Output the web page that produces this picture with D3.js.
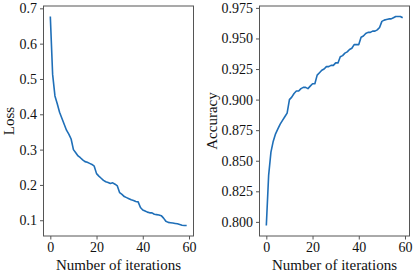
<!DOCTYPE html>
<html>
<head>
<meta charset="utf-8">
<script src="https://cdn.jsdelivr.net/npm/d3@7"></script>
<style>
  body { margin: 0; background: #fff; }
  svg { display: block; }
  .tick text { font-family: "Liberation Serif", "Times New Roman", serif; font-size: 14px; fill: #111; }
  .axis-label { font-family: "Liberation Serif", "Times New Roman", serif; font-size: 15px; fill: #111; }
</style>
</head>
<body>
<svg id="chart" width="415" height="274"></svg>
<script>
// iteration index 0..59
const iterations = d3.range(60);

const lossValues = [
	0.677, 0.513, 0.452, 0.430, 0.406, 0.389, 0.372, 0.355, 0.344, 0.330,
	0.300, 0.291, 0.282, 0.277, 0.271, 0.266, 0.264, 0.261, 0.258, 0.253,
	0.232, 0.225, 0.219, 0.213, 0.209, 0.207, 0.204, 0.206, 0.202, 0.197,
	0.178, 0.173, 0.167, 0.164, 0.161, 0.158, 0.156, 0.153, 0.152, 0.136,
	0.129, 0.126, 0.123, 0.121, 0.121, 0.117, 0.116, 0.115, 0.113, 0.106,
	0.097, 0.094, 0.093, 0.092, 0.091, 0.090, 0.088, 0.086, 0.085, 0.085
];

const accuracyValues = [
	0.797, 0.838, 0.857, 0.866, 0.872, 0.876, 0.880, 0.883, 0.886, 0.889,
	0.900, 0.902, 0.905, 0.907, 0.907, 0.909, 0.910, 0.910, 0.909, 0.911,
	0.913, 0.913, 0.920, 0.922, 0.924, 0.925, 0.927, 0.927, 0.928, 0.928,
	0.930, 0.930, 0.935, 0.936, 0.938, 0.939, 0.941, 0.942, 0.945, 0.945,
	0.945, 0.951, 0.952, 0.954, 0.955, 0.955, 0.956, 0.956, 0.957, 0.959,
	0.964, 0.965, 0.9655, 0.966, 0.966, 0.967, 0.968, 0.968, 0.968, 0.967
];

const xTicks = [0, 20, 40, 60];
const lossTicks = [0.1, 0.2, 0.3, 0.4, 0.5, 0.6, 0.7];
const accuracyTicks = [0.800, 0.825, 0.850, 0.875, 0.900, 0.925, 0.950, 0.975];

const svg = d3.select('#chart');
const lineColor = '#1f6fb8';
const frameColor = '#555';

// matplotlib-like 5% margins around the data
function paddedExtent(values) {
	let lo = d3.min(values), hi = d3.max(values);
	let pad = (hi - lo) * 0.05;
	return [ lo - pad, hi + pad ];
}

function drawPanel(opts) {
	let left = opts.left, top = 6, width = 150, height = 230;
	let g = svg.append('g').attr('transform', 'translate(' + left + ',' + top + ')');

	let xScale = d3.scaleLinear()
		.domain(paddedExtent(iterations))
		.range([ 0, width ]);
	let yScale = d3.scaleLinear()
		.domain(paddedExtent(opts.values))
		.range([ height, 0 ]);

	let line = d3.line()
		.x(function(d, i) { return xScale(iterations[i]); })
		.y(function(d) { return yScale(d); });

	g.append('path')
		.datum(opts.values)
		.attr('d', line)
		.style('fill', 'none')
		.style('stroke', lineColor)
		.style('stroke-width', 1.6)
		.style('stroke-linejoin', 'round');

	let xAxis = g.append('g')
		.attr('transform', 'translate(0,' + height + ')')
		.call(d3.axisBottom(xScale).tickValues(xTicks).tickSize(3.5).tickPadding(3).tickFormat(d3.format('d')));
	let yAxis = g.append('g')
		.call(d3.axisLeft(yScale).tickValues(opts.ticks).tickSize(3.5).tickPadding(3).tickFormat(d3.format(opts.format)));

	[ xAxis, yAxis ].forEach(function(ax) {
		ax.select('.domain').remove();
		ax.selectAll('.tick line').style('stroke', frameColor);
	});

	g.append('rect')
		.attr('x', 0)
		.attr('y', 0)
		.attr('width', width)
		.attr('height', height)
		.style('fill', 'none')
		.style('stroke', frameColor)
		.style('stroke-width', 1);

	g.append('text')
		.attr('class', 'axis-label')
		.attr('x', width / 2)
		.attr('y', height + 34)
		.attr('text-anchor', 'middle')
		.text('Number of iterations');

	g.append('text')
		.attr('class', 'axis-label')
		.attr('transform', 'translate(' + opts.labelX + ',' + (height / 2) + ') rotate(-90)')
		.attr('text-anchor', 'middle')
		.text(opts.label);
}

drawPanel({ left: 43.5, values: lossValues, ticks: lossTicks, format: '.1f', label: 'Loss', labelX: -30 });
drawPanel({ left: 259.5, values: accuracyValues, ticks: accuracyTicks, format: '.3f', label: 'Accuracy', labelX: -43 });
</script>
</body>
</html>
